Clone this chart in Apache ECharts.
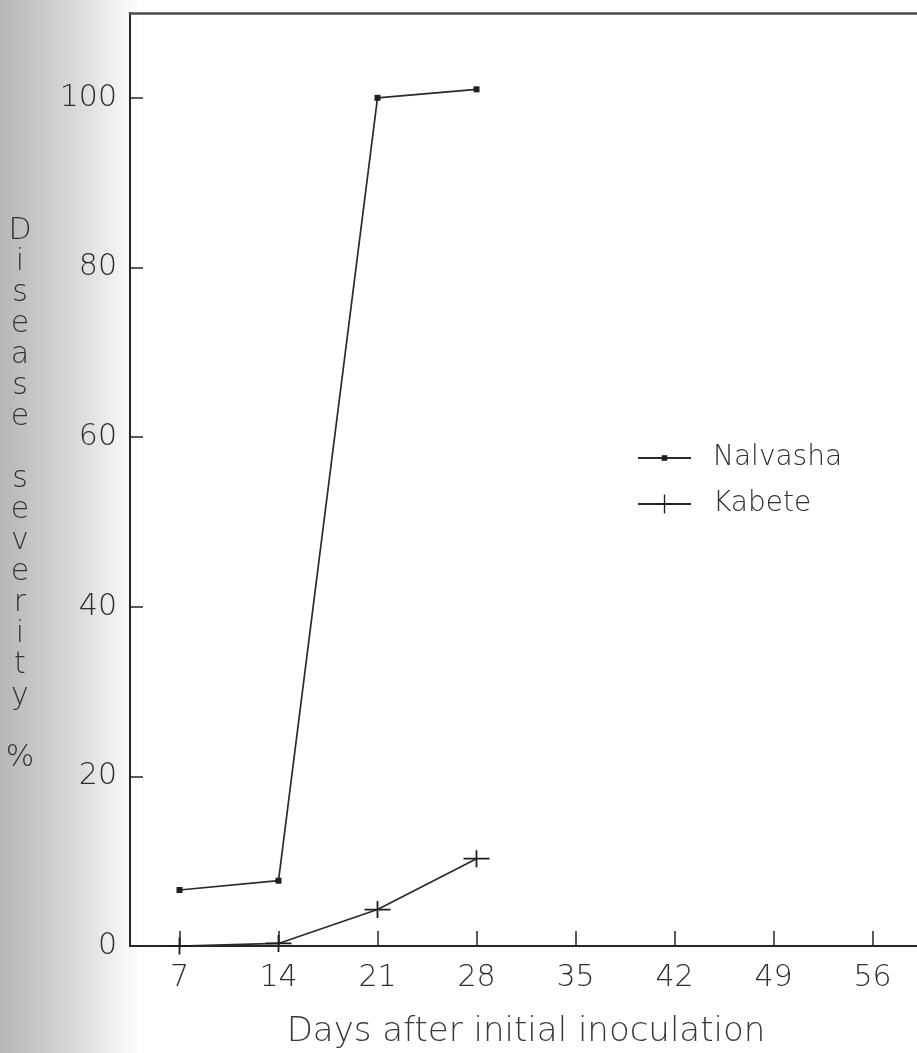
<!DOCTYPE html>
<html>
<head>
<meta charset="utf-8">
<script src="https://cdn.jsdelivr.net/npm/echarts@6/dist/echarts.min.js"></script>
<style>
  html, body { margin: 0; padding: 0; background: #fff; }
  #chart { width: 917px; height: 1053px; }
</style>
</head>
<body>
<div id="chart"></div>
<script>
// Disease severity (%) over days after initial inoculation, two isolates
const days = [7, 14, 21, 28];
const nalvasha = [6.6, 7.7, 100, 101];
const kabete = [0, 0.3, 4.3, 10.3];
const xTicks = [7, 14, 21, 28, 35, 42, 49, 56];
const yTicks = [0, 20, 40, 60, 80, 100];
const seriesNames = ['Nalvasha', 'Kabete'];
const xTitle = 'Days after initial inoculation';
const yTitle = 'Disease severity %';

const FONT = '"DejaVu Sans", sans-serif';
const INK = '#262626';
const TEXT = '#2e2e2e';

// stacked vertical title: one letter per line, blank line between words;
// the leading empty line nudges the column down a little
const yTitleStacked = '\n' + yTitle.split(' ').map(w => w.split('').join('\n')).join('\n\n');

// plus-sign marker used for the second series
const plusPath = 'path://M0,7.6h26v1.8h-26z M12.1,0h1.8v17h-1.8z';

const pairs = (ys) => days.map((d, i) => [d, ys[i]]);

const chart = echarts.init(document.getElementById('chart'), null, { renderer: 'canvas' });

chart.setOption({
  backgroundColor: '#ffffff',
  animation: false,
  graphic: [{
    type: 'rect',
    z: -10,
    silent: true,
    shape: { x: 0, y: 0, width: 140, height: 1053 },
    style: {
      fill: new echarts.graphic.LinearGradient(0, 0, 1, 0, [
        { offset: 0, color: '#b6b6b6' },
        { offset: 0.3, color: '#c9c9c9' },
        { offset: 0.6, color: '#dedede' },
        { offset: 0.85, color: '#f3f3f3' },
        { offset: 1, color: '#ffffff' }
      ])
    }
  }],
  grid: {
    left: 130, top: 13, right: -5, bottom: 107,
    outerBoundsMode: 'none',
    containLabel: false,
    show: false
  },
  legend: [{
    data: [seriesNames[0]],
    orient: 'vertical',
    left: 637, top: 444,
    padding: 0,
    itemWidth: 53, itemHeight: 7,
    textStyle: { fontFamily: FONT, fontSize: 28, fontWeight: 200, color: TEXT, padding: [10, 0, 0, 17] },
    selectedMode: false
  }, {
    data: [seriesNames[1]],
    orient: 'vertical',
    left: 637, top: 490,
    padding: 0,
    itemWidth: 53, itemHeight: 24,
    textStyle: { fontFamily: FONT, fontSize: 28, fontWeight: 200, color: TEXT, padding: [10, 0, 0, 17] },
    selectedMode: false
  }],
  xAxis: [{
    type: 'value',
    min: 3.5, max: 59.5,
    name: xTitle,
    nameLocation: 'middle',
    nameGap: 69,
    nameTextStyle: { fontFamily: FONT, fontSize: 34, fontWeight: 200, color: '#383838' },
    axisLine: { show: true, onZero: false, lineStyle: { color: INK, width: 2 } },
    axisTick: { show: true, inside: true, length: 15, customValues: xTicks, lineStyle: { color: INK, width: 1.5 } },
    axisLabel: { customValues: xTicks, fontFamily: FONT, fontSize: 30, fontWeight: 200, color: TEXT, margin: 17 },
    splitLine: { show: false }
  }, {
    // top frame line of the plot box
    type: 'value',
    position: 'top',
    min: 3.5, max: 59.5,
    axisLine: { show: true, onZero: false, lineStyle: { color: '#4a4a4a', width: 2.5 } },
    axisTick: { show: false },
    axisLabel: { show: false },
    splitLine: { show: false }
  }],
  yAxis: {
    type: 'value',
    min: 0, max: 110,
    name: yTitleStacked,
    nameLocation: 'middle',
    nameRotate: 0,
    nameGap: 110,
    nameTextStyle: { fontFamily: FONT, fontSize: 30, fontWeight: 200, color: '#333', align: 'center', verticalAlign: 'middle', lineHeight: 31 },
    axisLine: { show: true, lineStyle: { color: INK, width: 2 } },
    axisTick: { show: true, inside: true, length: 13, customValues: yTicks, lineStyle: { color: INK, width: 1.5 } },
    axisLabel: { customValues: yTicks, fontFamily: FONT, fontSize: 30, fontWeight: 200, color: TEXT, margin: 13 },
    splitLine: { show: false }
  },
  series: [{
    name: seriesNames[0],
    type: 'line',
    data: pairs(nalvasha),
    symbol: 'rect',
    symbolSize: 6,
    showAllSymbol: true,
    itemStyle: { color: '#1e1e1e' },
    lineStyle: { color: '#2a2a2a', width: 1.7 },
    z: 3
  }, {
    name: seriesNames[1],
    type: 'line',
    data: pairs(kabete),
    symbol: plusPath,
    symbolSize: [26, 17],
    showAllSymbol: true,
    itemStyle: { color: '#1e1e1e' },
    lineStyle: { color: '#2a2a2a', width: 1.7 },
    z: 3
  }]
});
</script>
</body>
</html>
